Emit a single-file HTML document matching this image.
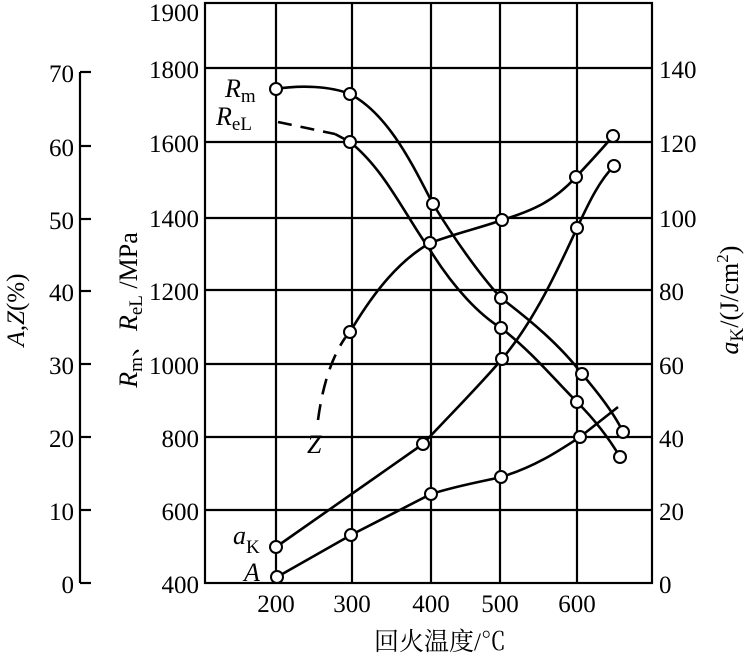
<!DOCTYPE html>
<html><head><meta charset="utf-8"><style>
body{margin:0;background:#fff}
svg{display:block}
text{font-family:"Liberation Serif","Noto Serif CJK SC",serif;fill:#000}
</style></head><body>
<svg width="747" height="658" viewBox="0 0 747 658" xmlns="http://www.w3.org/2000/svg">
<g stroke="#000" stroke-width="2.2" fill="none">
<rect x="205" y="3" width="447" height="580"/>
<line x1="276" y1="3" x2="276" y2="583"/>
<line x1="352" y1="3" x2="352" y2="583"/>
<line x1="431" y1="3" x2="431" y2="583"/>
<line x1="500" y1="3" x2="500" y2="583"/>
<line x1="577" y1="3" x2="577" y2="583"/>
<line x1="205" y1="68" x2="652" y2="68"/>
<line x1="205" y1="142" x2="652" y2="142"/>
<line x1="205" y1="218" x2="652" y2="218"/>
<line x1="205" y1="290" x2="652" y2="290"/>
<line x1="205" y1="364" x2="652" y2="364"/>
<line x1="205" y1="437" x2="652" y2="437"/>
<line x1="205" y1="510" x2="652" y2="510"/>
<line x1="80" y1="72" x2="80" y2="583"/>
<line x1="80" y1="72" x2="91" y2="72"/>
<line x1="80" y1="146" x2="91" y2="146"/>
<line x1="80" y1="219" x2="91" y2="219"/>
<line x1="80" y1="291" x2="91" y2="291"/>
<line x1="80" y1="364" x2="91" y2="364"/>
<line x1="80" y1="437" x2="91" y2="437"/>
<line x1="80" y1="510" x2="91" y2="510"/>
<line x1="80" y1="583" x2="91" y2="583"/>
</g>
<g stroke="#000" stroke-width="2.6" fill="none">
<path d="M276,89 C300,85 330,86 350,94 C390,115 415,170 433,204 C455,240 480,275 501,298 C530,320 560,345 582,374 C600,395 615,415 623,432"/>
<path d="M278,122 L335,134" stroke-dasharray="14,9"/>
<path d="M335,134 L350,142 C385,170 405,215 430,250 C455,290 480,315 501,328 C530,350 555,380 577,402 C595,420 610,440 620,457"/>
<path d="M318,420 C322,390 330,360 345,338" stroke-dasharray="16,10"/>
<path d="M345,338 L350,332 C375,290 400,260 430,243 C460,232 480,228 502,220 C535,210 555,200 576,177 C590,162 603,148 613,136"/>
<path d="M276,547 L423,444 C450,415 480,385 502,359 C535,320 560,265 577,228 C590,200 600,180 614,166"/>
<path d="M277,577 L351,535 L431,494 C460,485 480,482 501,477 C535,467 560,450 580,437 L618,407"/>
</g>
<g stroke="#000" stroke-width="2" fill="#fff">
<circle cx="276" cy="89" r="6"/><circle cx="350" cy="94" r="6"/><circle cx="433" cy="204" r="6"/><circle cx="501" cy="298" r="6"/><circle cx="582" cy="374" r="6"/><circle cx="623" cy="432" r="6"/>
<circle cx="350" cy="142" r="6"/><circle cx="501" cy="328" r="6"/><circle cx="577" cy="402" r="6"/><circle cx="620" cy="457" r="6"/>
<circle cx="350" cy="332" r="6"/><circle cx="430" cy="243" r="6"/><circle cx="502" cy="220" r="6"/><circle cx="576" cy="177" r="6"/><circle cx="613" cy="136" r="6"/>
<circle cx="276" cy="547" r="6"/><circle cx="423" cy="444" r="6"/><circle cx="502" cy="359" r="6"/><circle cx="577" cy="228" r="6"/><circle cx="614" cy="166" r="6"/>
<circle cx="277" cy="577" r="6"/><circle cx="351" cy="535" r="6"/><circle cx="431" cy="494" r="6"/><circle cx="501" cy="477" r="6"/><circle cx="580" cy="437" r="6"/>
</g>
<g font-size="25" text-anchor="end">
<text x="199" y="21">1900</text><text x="199" y="78">1800</text><text x="199" y="152">1600</text><text x="199" y="227">1400</text><text x="199" y="300">1200</text><text x="199" y="374">1000</text><text x="199" y="447">800</text><text x="199" y="520">600</text><text x="199" y="593">400</text>
<text x="74" y="82">70</text><text x="74" y="156">60</text><text x="74" y="229">50</text><text x="74" y="301">40</text><text x="74" y="374">30</text><text x="74" y="447">20</text><text x="74" y="520">10</text><text x="74" y="593">0</text>
</g>
<g font-size="25">
<text x="659" y="78">140</text><text x="659" y="152">120</text><text x="659" y="227">100</text><text x="659" y="300">80</text><text x="659" y="374">60</text><text x="659" y="447">40</text><text x="659" y="520">20</text><text x="659" y="593">0</text>
</g>
<g font-size="25" text-anchor="middle">
<text x="276" y="612">200</text><text x="352" y="612">300</text><text x="431" y="612">400</text><text x="500" y="612">500</text><text x="577" y="612">600</text>
<text x="440" y="650">回火温度/℃</text>
</g>
<g font-size="26">
<text x="225" y="97"><tspan font-style="italic">R</tspan><tspan font-size="19" dy="5">m</tspan></text>
<text x="216" y="125"><tspan font-style="italic">R</tspan><tspan font-size="19" dy="5">eL</tspan></text>
<text x="307" y="453" font-style="italic">Z</text>
<text x="233" y="544"><tspan font-style="italic">a</tspan><tspan font-size="19" dy="9">K</tspan></text>
<text x="244" y="581" font-style="italic">A</text>
<text transform="translate(24,310) rotate(-90)" text-anchor="middle" font-size="25"><tspan font-style="italic">A</tspan>,<tspan font-style="italic">Z</tspan>(%)</text>
<text transform="translate(137,310) rotate(-90)" text-anchor="middle"><tspan font-style="italic">R</tspan><tspan font-size="19" dy="5">m</tspan><tspan dy="-5">、</tspan><tspan font-style="italic">R</tspan><tspan font-size="19" dy="5">eL</tspan><tspan dy="-5"> /MPa</tspan></text>
<text transform="translate(738,300) rotate(-90)" text-anchor="middle"><tspan font-style="italic">a</tspan><tspan font-size="19" dy="5">K</tspan><tspan dy="-5">/(J/cm</tspan><tspan font-size="17" dy="-10">2</tspan><tspan dy="10">)</tspan></text>
</g>
</svg>
</body></html>
